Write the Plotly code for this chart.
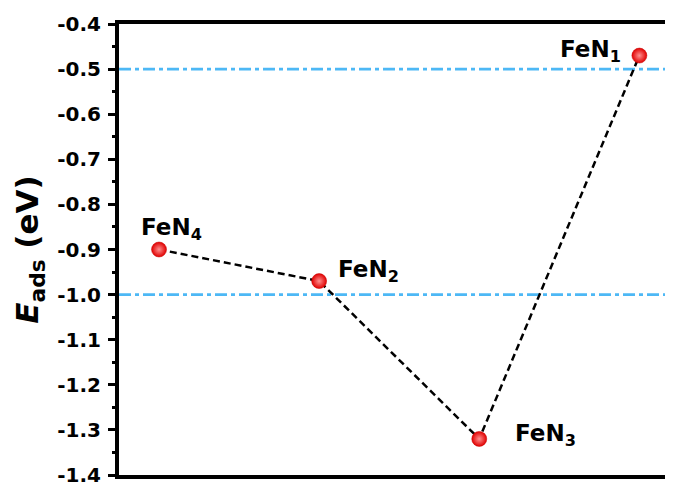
import plotly.graph_objects as go

categories = ["FeN4", "FeN2", "FeN3", "FeN1"]
x_pos = [1, 2, 3, 4]
e_ads = [-0.90, -0.97, -1.32, -0.47]
labels = ["FeN<sub>4</sub>", "FeN<sub>2</sub>", "FeN<sub>3</sub>", "FeN<sub>1</sub>"]
label_shift_x = [12, 49, 66, -49]
label_shift_y = [21, 10, 4, 5]
ref_lines = [-0.5, -1.0]
y_ticks = [-1.4, -1.3, -1.2, -1.1, -1.0, -0.9, -0.8, -0.7, -0.6, -0.5, -0.4]
y_tick_text = ["%.1f" % v for v in y_ticks]

FONT = "DejaVu Sans, Liberation Sans, Arial, sans-serif"

fig = go.Figure()
fig.add_trace(go.Scatter(
    x=x_pos, y=e_ads, mode="lines+markers",
    line=dict(color="black", width=2.5, dash="7px,4px"),
    marker=dict(size=15, color="#e00000",
                gradient=dict(type="radial", color="#ff9090"),
                line=dict(color="#c80000", width=0.5)),
    showlegend=False, hoverinfo="skip",
))

for yv in ref_lines:
    fig.add_shape(type="line", xref="paper", yref="y", x0=0, x1=1, y0=yv, y1=yv,
                  line=dict(color="#4DB8F5", width=2.7, dash="12px,4px,4px,4px"),
                  layer="below")

for xv, yv, t, sx, sy in zip(x_pos, e_ads, labels, label_shift_x, label_shift_y):
    fig.add_annotation(x=xv, y=yv, text=t, showarrow=False, xshift=sx, yshift=sy,
                       font=dict(family=FONT, size=23, color="black", weight="bold"))

# the page body adds an 8px offset, so the figure is sized to fit the window
fig.update_layout(
    width=665, height=479,
    margin=dict(l=111, r=0, t=16, b=12),
    plot_bgcolor="white", paper_bgcolor="white",
    xaxis=dict(range=[0.75, 4.21], showline=True, mirror=True, linecolor="black",
               linewidth=4, showticklabels=False, ticks="", showgrid=False,
               zeroline=False),
    yaxis=dict(range=[-1.4, -0.4], tickvals=y_ticks, ticktext=y_tick_text,
               showline=True, linecolor="black", linewidth=4,
               ticks="outside", ticklen=7, tickwidth=3, tickcolor="black",
               minor=dict(dtick=0.05, ticks="outside", ticklen=3, tickwidth=3,
                          tickcolor="black", showgrid=False),
               showgrid=False, zeroline=False, ticklabelstandoff=3,
               tickfont=dict(family=FONT, size=20, color="black", weight="bold"),
               title=dict(text="<b><i>E</i><sub>ads</sub> (eV)</b>",
                          font=dict(family=FONT, size=31, color="black"),
                          standoff=10)),
)

fig.write_html("out.html")
